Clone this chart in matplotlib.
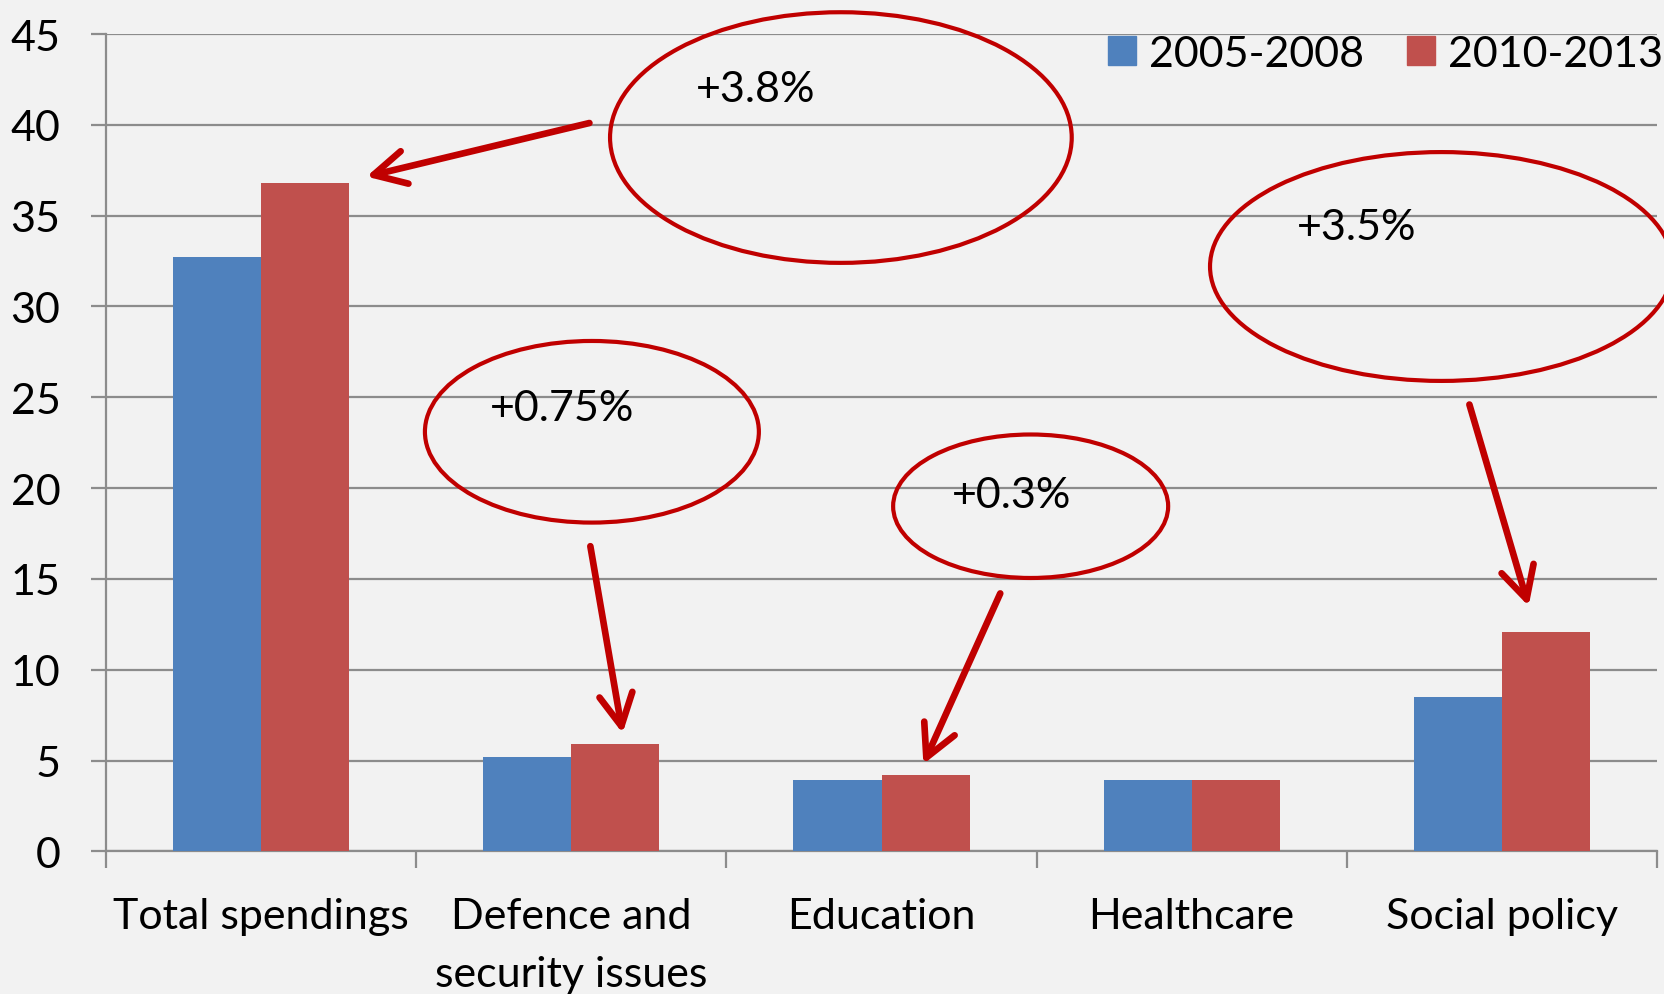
import matplotlib
matplotlib.use('Agg')
import matplotlib.pyplot as plt
from matplotlib.patches import Ellipse, Patch
import numpy as np

# ── Data ──────────────────────────────────────────────
categories = ['Total spendings', 'Defence and\nsecurity issues', 'Education',
              'Healthcare', 'Social policy']
series_names = ['2005-2008', '2010-2013']
vals_0508 = [32.7, 5.2, 3.9, 3.9, 8.5]
vals_1013 = [36.8, 5.9, 4.2, 3.9, 12.1]

# growth callouts: label, category index
callout_labels = ['+3.8%', '+0.75%', '+0.3%', '+3.5%']
callout_cats = [0, 1, 2, 4]

BLUE = '#4f81bd'
RED = '#c0504d'
DARK_RED = '#c00000'
GRID = '#8c8c8c'
BG = '#f2f2f2'
FS = 31

plt.rcParams['font.family'] = ['Lato', 'DejaVu Sans']

fig = plt.figure(figsize=(16.64, 9.95), dpi=100, facecolor=BG)
ax = fig.add_axes([0.0639, 0.1434, 0.9317, 0.8214], facecolor=BG)

x = np.arange(len(categories))
w = 0.284
ax.bar(x - w / 2, vals_0508, w, color=BLUE, zorder=3)
ax.bar(x + w / 2, vals_1013, w, color=RED, zorder=3)

ax.set_xlim(-0.5, len(categories) - 0.5)
ax.set_ylim(0, 45)
ax.set_yticks(range(0, 46, 5))
ax.yaxis.grid(True, color=GRID, linewidth=1.6, zorder=0)
ax.set_axisbelow(True)

for s in ['top', 'right']:
    ax.spines[s].set_visible(False)
for s in ['left', 'bottom']:
    ax.spines[s].set_color(GRID)
    ax.spines[s].set_linewidth(1.6)

ax.set_xticks(np.arange(-0.5, len(categories), 1.0), minor=False)
ax.set_xticklabels([])
ax.set_xticks(x, minor=True)
ax.set_xticklabels(categories, minor=True, fontsize=FS)
for t in ax.get_xticklabels(minor=True):
    t.set_linespacing(1.65)
ax.tick_params(axis='x', which='major', length=12, width=1.6, color=GRID, direction='out')
ax.tick_params(axis='x', which='minor', length=0, pad=33)
ax.tick_params(axis='y', length=11, width=1.6, color=GRID, labelsize=FS, pad=22)

# legend
handles = [Patch(color=BLUE), Patch(color=RED)]
ax.legend(handles, series_names, ncol=2, frameon=False, fontsize=FS,
          loc='upper right', bbox_to_anchor=(1.004, 0.999),
          handlelength=0.65, handleheight=0.65, handletextpad=0.3,
          columnspacing=1.0, borderpad=0, borderaxespad=0)

# ── callouts (ellipses, texts, arrows) ────────────────
ell_centers = [(1.869, 39.3), (1.066, 23.1), (2.481, 19.0), (3.806, 32.2)]
ell_sizes = [(1.489, 13.8), (1.077, 10.0), (0.887, 7.9), (1.493, 12.6)]
text_pos = [(1.595, 42.0), (0.971, 24.4), (2.419, 19.6), (3.532, 34.4)]
arrow_start = [(1.058, 40.1), (1.061, 16.8), (2.383, 14.2), (3.896, 24.6)]
tip_offset = [(0.197, 0.35), (0.023, 0.6), (-0.007, 0.6), (-0.055, 1.4)]

for lab, ci, c, sz, tp, st, off in zip(callout_labels, callout_cats, ell_centers,
                                       ell_sizes, text_pos, arrow_start, tip_offset):
    e = Ellipse(c, sz[0], sz[1], fill=False, edgecolor=DARK_RED, linewidth=3.0,
                clip_on=False, zorder=5)
    ax.add_patch(e)
    ax.text(tp[0], tp[1], lab, fontsize=FS, ha='center', va='center', zorder=6)
    tip = (x[ci] + w / 2 + off[0], vals_1013[ci] + off[1])
    ax.annotate('', xy=tip, xytext=st,
                arrowprops=dict(arrowstyle='->,head_length=1.15,head_width=0.6',
                                color=DARK_RED, lw=4.8, mutation_scale=20,
                                shrinkA=0, shrinkB=0, capstyle='round',
                                joinstyle='round'),
                zorder=6, annotation_clip=False)

fig.savefig('out.png', dpi=100, facecolor=BG)
